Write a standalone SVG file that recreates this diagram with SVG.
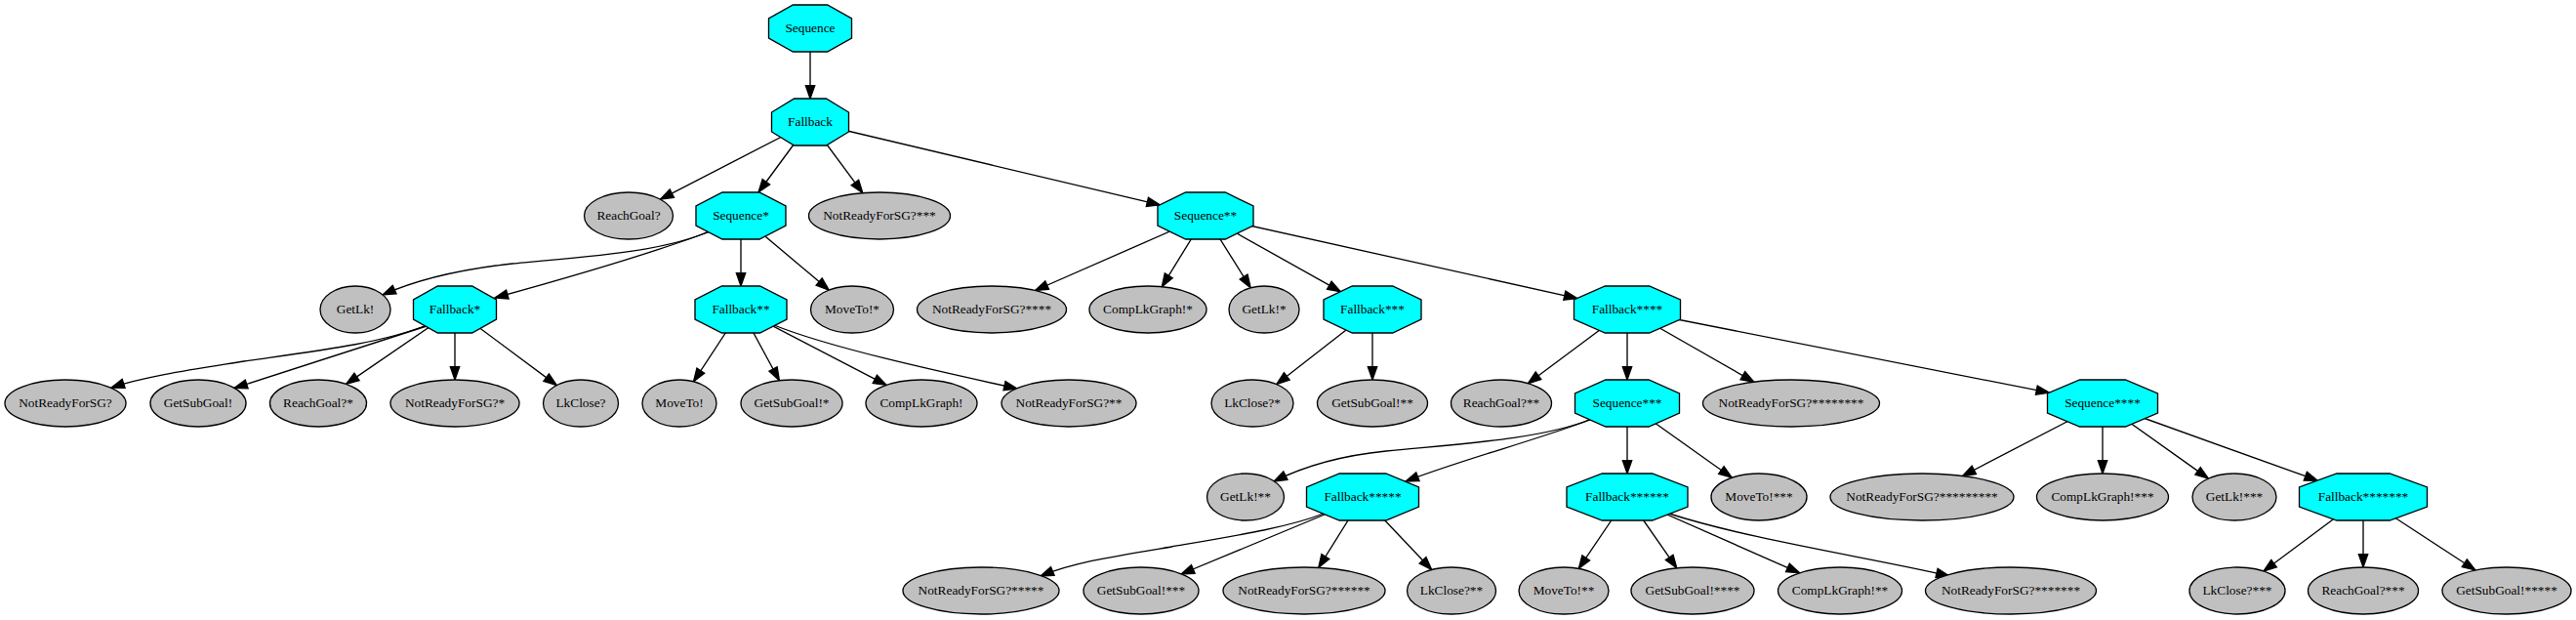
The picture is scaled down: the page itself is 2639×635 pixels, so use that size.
<svg xmlns="http://www.w3.org/2000/svg" width="2639" height="635" viewBox="0 0 2639 635">
<defs>
<style>
.oct{fill:#00ffff;stroke:#000;stroke-width:1.33}
.ell{fill:#c0c0c0;stroke:#000;stroke-width:1.33}
.lbl{font-family:"Liberation Serif","Times New Roman",serif;font-size:13.33px;text-anchor:middle;fill:#000}
.e{fill:none;stroke:#000;stroke-width:1.33;marker-end:url(#arr)}
</style>
<marker id="arr" markerWidth="15" markerHeight="11" refX="13.3" refY="4.67" orient="auto" markerUnits="userSpaceOnUse" overflow="visible">
<path d="M0,0 L13.3,4.67 L0,9.33 z" fill="#000" stroke="#000" stroke-width="1.33"/>
</marker>
</defs>
<rect width="2639" height="635" fill="#fff"/>
<g id="connectors">
<path class="e" d="M830,29 L830,101"/>
<path class="e" d="M830,125 L676.5,204.2"/>
<path class="e" d="M830,125 L777,197"/>
<path class="e" d="M830,125 L883.8,197.7"/>
<path class="e" d="M830,125 L1188.3,209.9"/>
<path class="e" d="M728,236 C685,257 605,263 525,270 C470,276 428,286 392,302"/>
<path class="e" d="M728,237 C660,262 580,285 507,305"/>
<path class="e" d="M759,221 L759,293"/>
<path class="e" d="M759,221 L849.3,297.1"/>
<path class="e" d="M437,333 C390,352 320,360 250,370 C200,378 150,385 114,397"/>
<path class="e" d="M437,334 L240,397.5"/>
<path class="e" d="M466,317 L354.6,393.4"/>
<path class="e" d="M466,317 L466,389"/>
<path class="e" d="M466,317 L570.3,394.6"/>
<path class="e" d="M759,317 L710.5,390.8"/>
<path class="e" d="M759,317 L798.4,389.7"/>
<path class="e" d="M759,317 L908.1,394.4"/>
<path class="e" d="M793,333 C850,356 960,380 1042,398"/>
<path class="e" d="M1235,221 L1060.5,297.5"/>
<path class="e" d="M1235,221 L1190.3,293.7"/>
<path class="e" d="M1235,221 L1281.2,294.8"/>
<path class="e" d="M1235,221 L1373.4,298.7"/>
<path class="e" d="M1235,221 L1615.8,305.6"/>
<path class="e" d="M1406,317 L1307.8,393.6"/>
<path class="e" d="M1406,317 L1406,389"/>
<path class="e" d="M1667,317 L1565.3,392.7"/>
<path class="e" d="M1667,317 L1667,389"/>
<path class="e" d="M1667,317 L1796.9,391.2"/>
<path class="e" d="M1667,317 L2099.4,402.2"/>
<path class="e" d="M1629,429.5 C1580,450 1490,455 1420,462 C1370,467 1335,478 1305,493"/>
<path class="e" d="M1629,430 C1570,452 1500,470 1440,493"/>
<path class="e" d="M1667,413 L1667,485"/>
<path class="e" d="M1667,413 L1774.2,489.2"/>
<path class="e" d="M1356,526 C1320,540 1270,548 1200,560 C1140,570 1100,576 1066,590"/>
<path class="e" d="M1357,527 L1210,588"/>
<path class="e" d="M1396,509 L1350.8,581.4"/>
<path class="e" d="M1396,509 L1466.7,583.5"/>
<path class="e" d="M1667,509 L1617.3,582.4"/>
<path class="e" d="M1667,509 L1717.8,581.8"/>
<path class="e" d="M1667,509 L1843.6,586.8"/>
<path class="e" d="M1710,526 C1790,552 1920,572 1997,590"/>
<path class="e" d="M2154,413 L2010.5,487.5"/>
<path class="e" d="M2154,413 L2154,485"/>
<path class="e" d="M2154,413 L2262.4,490.1"/>
<path class="e" d="M2154,413 L2374.3,492.2"/>
<path class="e" d="M2421,509 L2318.9,585"/>
<path class="e" d="M2421,509 L2421,581"/>
<path class="e" d="M2421,509 L2535.9,584"/>
</g>
<g id="n0"><polygon class="oct" points="812.4,5 847.6,5 872.5,19 872.5,39 847.6,53 812.4,53 787.5,39 787.5,19"/><text class="lbl" x="830" y="33">Sequence</text></g>
<g id="n1"><polygon class="oct" points="813.6,101 846.4,101 869.5,115 869.5,135 846.4,149 813.6,149 790.5,135 790.5,115"/><text class="lbl" x="830" y="129">Fallback</text></g>
<g id="n2"><ellipse class="ell" cx="644" cy="221" rx="45.5" ry="24"/><text class="lbl" x="644" y="225">ReachGoal?</text></g>
<g id="n3"><polygon class="oct" points="740,197 778,197 805,211 805,231 778,245 740,245 713,231 713,211"/><text class="lbl" x="759" y="225">Sequence*</text></g>
<g id="n4"><ellipse class="ell" cx="901" cy="221" rx="72.5" ry="24"/><text class="lbl" x="901" y="225">NotReadyForSG?***</text></g>
<g id="n5"><polygon class="oct" points="1214.7,197 1255.3,197 1284,211 1284,231 1255.3,245 1214.7,245 1186,231 1186,211"/><text class="lbl" x="1235" y="225">Sequence**</text></g>
<g id="n6"><ellipse class="ell" cx="364" cy="317" rx="36" ry="24"/><text class="lbl" x="364" y="321">GetLk!</text></g>
<g id="n7"><polygon class="oct" points="448.4,293 483.6,293 508.5,307 508.5,327 483.6,341 448.4,341 423.5,327 423.5,307"/><text class="lbl" x="466" y="321">Fallback*</text></g>
<g id="n8"><polygon class="oct" points="739.5,293 778.5,293 806,307 806,327 778.5,341 739.5,341 712,327 712,307"/><text class="lbl" x="759" y="321">Fallback**</text></g>
<g id="n9"><ellipse class="ell" cx="873" cy="317" rx="42.5" ry="24"/><text class="lbl" x="873" y="321">MoveTo!*</text></g>
<g id="n10"><ellipse class="ell" cx="1016" cy="317" rx="76.5" ry="24"/><text class="lbl" x="1016" y="321">NotReadyForSG?****</text></g>
<g id="n11"><ellipse class="ell" cx="1176" cy="317" rx="60" ry="24"/><text class="lbl" x="1176" y="321">CompLkGraph!*</text></g>
<g id="n12"><ellipse class="ell" cx="1295" cy="317" rx="36" ry="24"/><text class="lbl" x="1295" y="321">GetLk!*</text></g>
<g id="n13"><polygon class="oct" points="1385.3,293 1426.7,293 1456,307 1456,327 1426.7,341 1385.3,341 1356,327 1356,307"/><text class="lbl" x="1406" y="321">Fallback***</text></g>
<g id="n14"><polygon class="oct" points="1644.4,293 1689.6,293 1721.5,307 1721.5,327 1689.6,341 1644.4,341 1612.5,327 1612.5,307"/><text class="lbl" x="1667" y="321">Fallback****</text></g>
<g id="n15"><ellipse class="ell" cx="67" cy="413" rx="62" ry="24"/><text class="lbl" x="67" y="417">NotReadyForSG?</text></g>
<g id="n16"><ellipse class="ell" cx="203" cy="413" rx="49" ry="24"/><text class="lbl" x="203" y="417">GetSubGoal!</text></g>
<g id="n17"><ellipse class="ell" cx="326" cy="413" rx="49.5" ry="24"/><text class="lbl" x="326" y="417">ReachGoal?*</text></g>
<g id="n18"><ellipse class="ell" cx="466" cy="413" rx="66" ry="24"/><text class="lbl" x="466" y="417">NotReadyForSG?*</text></g>
<g id="n19"><ellipse class="ell" cx="595" cy="413" rx="38.5" ry="24"/><text class="lbl" x="595" y="417">LkClose?</text></g>
<g id="n20"><ellipse class="ell" cx="696" cy="413" rx="38" ry="24"/><text class="lbl" x="696" y="417">MoveTo!</text></g>
<g id="n21"><ellipse class="ell" cx="811" cy="413" rx="52" ry="24"/><text class="lbl" x="811" y="417">GetSubGoal!*</text></g>
<g id="n22"><ellipse class="ell" cx="944" cy="413" rx="57" ry="24"/><text class="lbl" x="944" y="417">CompLkGraph!</text></g>
<g id="n23"><ellipse class="ell" cx="1095" cy="413" rx="69" ry="24"/><text class="lbl" x="1095" y="417">NotReadyForSG?**</text></g>
<g id="n24"><ellipse class="ell" cx="1283" cy="413" rx="42" ry="24"/><text class="lbl" x="1283" y="417">LkClose?*</text></g>
<g id="n25"><ellipse class="ell" cx="1406" cy="413" rx="56.5" ry="24"/><text class="lbl" x="1406" y="417">GetSubGoal!**</text></g>
<g id="n26"><ellipse class="ell" cx="1538" cy="413" rx="51.5" ry="24"/><text class="lbl" x="1538" y="417">ReachGoal?**</text></g>
<g id="n27"><polygon class="oct" points="1644.9,389 1689.1,389 1720.5,403 1720.5,423 1689.1,437 1644.9,437 1613.5,423 1613.5,403"/><text class="lbl" x="1667" y="417">Sequence***</text></g>
<g id="n28"><ellipse class="ell" cx="1835" cy="413" rx="90.5" ry="24"/><text class="lbl" x="1835" y="417">NotReadyForSG?********</text></g>
<g id="n29"><polygon class="oct" points="2130.6,389 2177.4,389 2210.5,403 2210.5,423 2177.4,437 2130.6,437 2097.5,423 2097.5,403"/><text class="lbl" x="2154" y="417">Sequence****</text></g>
<g id="n30"><ellipse class="ell" cx="1276" cy="509" rx="39.5" ry="24"/><text class="lbl" x="1276" y="513">GetLk!**</text></g>
<g id="n31"><polygon class="oct" points="1372.2,485 1419.8,485 1453.5,499 1453.5,519 1419.8,533 1372.2,533 1338.5,519 1338.5,499"/><text class="lbl" x="1396" y="513">Fallback*****</text></g>
<g id="n32"><polygon class="oct" points="1641.3,485 1692.7,485 1729,499 1729,519 1692.7,533 1641.3,533 1605,519 1605,499"/><text class="lbl" x="1667" y="513">Fallback******</text></g>
<g id="n33"><ellipse class="ell" cx="1802" cy="509" rx="49" ry="24"/><text class="lbl" x="1802" y="513">MoveTo!***</text></g>
<g id="n34"><ellipse class="ell" cx="1969" cy="509" rx="94" ry="24"/><text class="lbl" x="1969" y="513">NotReadyForSG?*********</text></g>
<g id="n35"><ellipse class="ell" cx="2154" cy="509" rx="67.5" ry="24"/><text class="lbl" x="2154" y="513">CompLkGraph!***</text></g>
<g id="n36"><ellipse class="ell" cx="2289" cy="509" rx="43" ry="24"/><text class="lbl" x="2289" y="513">GetLk!***</text></g>
<g id="n37"><polygon class="oct" points="2393.9,485 2448.1,485 2486.5,499 2486.5,519 2448.1,533 2393.9,533 2355.5,519 2355.5,499"/><text class="lbl" x="2421" y="513">Fallback*******</text></g>
<g id="n38"><ellipse class="ell" cx="1005" cy="605" rx="80" ry="24"/><text class="lbl" x="1005" y="609">NotReadyForSG?*****</text></g>
<g id="n39"><ellipse class="ell" cx="1169" cy="605" rx="59" ry="24"/><text class="lbl" x="1169" y="609">GetSubGoal!***</text></g>
<g id="n40"><ellipse class="ell" cx="1336" cy="605" rx="83" ry="24"/><text class="lbl" x="1336" y="609">NotReadyForSG?******</text></g>
<g id="n41"><ellipse class="ell" cx="1487" cy="605" rx="45.5" ry="24"/><text class="lbl" x="1487" y="609">LkClose?**</text></g>
<g id="n42"><ellipse class="ell" cx="1602" cy="605" rx="46" ry="24"/><text class="lbl" x="1602" y="609">MoveTo!**</text></g>
<g id="n43"><ellipse class="ell" cx="1734" cy="605" rx="63" ry="24"/><text class="lbl" x="1734" y="609">GetSubGoal!****</text></g>
<g id="n44"><ellipse class="ell" cx="1885" cy="605" rx="63.5" ry="24"/><text class="lbl" x="1885" y="609">CompLkGraph!**</text></g>
<g id="n45"><ellipse class="ell" cx="2060" cy="605" rx="87.5" ry="24"/><text class="lbl" x="2060" y="609">NotReadyForSG?*******</text></g>
<g id="n46"><ellipse class="ell" cx="2292" cy="605" rx="49" ry="24"/><text class="lbl" x="2292" y="609">LkClose?***</text></g>
<g id="n47"><ellipse class="ell" cx="2421" cy="605" rx="56.5" ry="24"/><text class="lbl" x="2421" y="609">ReachGoal?***</text></g>
<g id="n48"><ellipse class="ell" cx="2568" cy="605" rx="66" ry="24"/><text class="lbl" x="2568" y="609">GetSubGoal!*****</text></g>
</svg>
